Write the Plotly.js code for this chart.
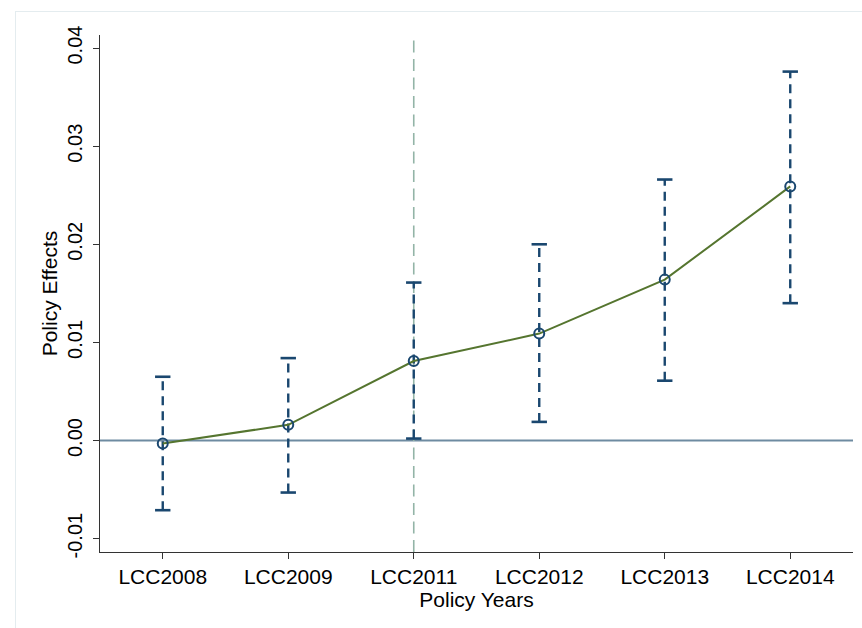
<!DOCTYPE html>
<html>
<head>
<meta charset="utf-8">
<script src="https://cdn.plot.ly/plotly-3.0.1.min.js"></script>
<style>
  html, body { margin: 0; padding: 0; background: #ffffff; }
  #wrap { position: relative; width: 862px; height: 628px; overflow: hidden; }
  #frame { position: absolute; left: 15px; top: 11px; width: 900px; height: 700px;
           border-left: 1px solid #e4ecef; border-top: 1px solid #e4ecef; pointer-events: none; }
  #chart { position: absolute; left: 0; top: 0; width: 862px; height: 628px; }
</style>
</head>
<body>
<div id="wrap">
  <div id="chart"></div>
  <div id="frame"></div>
</div>
<script>
// ---- data ----
const categories = ["LCC2008", "LCC2009", "LCC2011", "LCC2012", "LCC2013", "LCC2014"];
const estimates  = [-0.0003, 0.0016, 0.0081, 0.0109, 0.0164, 0.0259];
const ciLower    = [-0.0071, -0.0053, 0.0002, 0.0019, 0.0061, 0.0140];
const ciUpper    = [0.0065, 0.0084, 0.0161, 0.0200, 0.0266, 0.0376];
const yTickVals  = [-0.01, 0.00, 0.01, 0.02, 0.03, 0.04];
const yTickText  = ["-0.01", "0.00", "0.01", "0.02", "0.03", "0.04"];
const policyStart = "LCC2011";

const navy = "#1a476f";
const green = "#55752f";
const font = "Liberation Sans, Arial, Helvetica, sans-serif";

// CI segments built from the arrays
const ciX = [], ciY = [];
categories.forEach((c, i) => { ciX.push(c, c, null); ciY.push(ciLower[i], ciUpper[i], null); });

const traces = [
  { type: "scatter", mode: "lines", x: ciX, y: ciY, connectgaps: false,
    line: { color: navy, width: 2.4, dash: "9px,6px" }, hoverinfo: "skip", showlegend: false },
  { type: "scatter", mode: "markers", x: categories.concat(categories), y: ciLower.concat(ciUpper),
    marker: { symbol: "line-ew", size: 11, line: { color: navy, width: 2.6 } }, showlegend: false },
  { type: "scatter", mode: "lines", x: categories, y: estimates,
    line: { color: green, width: 2 }, showlegend: false },
  { type: "scatter", mode: "markers", x: categories, y: estimates,
    marker: { symbol: "circle-open", size: 10, color: navy, line: { color: navy, width: 2 } }, showlegend: false }
];

const layout = {
  width: 862, height: 628,
  margin: { l: 100, r: 9, t: 35, b: 76 },
  paper_bgcolor: "rgba(0,0,0,0)", plot_bgcolor: "#ffffff",
  font: { family: font, size: 20, color: "#000000" },
  showlegend: false,
  xaxis: {
    type: "category", categoryorder: "array", categoryarray: categories,
    range: [-0.5, categories.length - 0.5],
    showline: true, linecolor: "#333333", linewidth: 1.2, mirror: false,
    ticks: "outside", ticklen: 6, tickwidth: 1, tickcolor: "#333333",
    showgrid: false, zeroline: false,
    tickfont: { family: font, size: 21, color: "#000000" },
    title: { text: "Policy Years", font: { family: font, size: 21, color: "#000000" }, standoff: 4 },
    automargin: false
  },
  yaxis: {
    range: [-0.01136, 0.04133],
    tickvals: yTickVals, ticktext: yTickText, tickangle: -90,
    showline: true, linecolor: "#333333", linewidth: 1.2,
    ticks: "outside", ticklen: 6, tickwidth: 1, tickcolor: "#333333",
    ticklabelstandoff: 3,
    showgrid: false, zeroline: false,
    tickfont: { family: font, size: 20, color: "#000000" },
    title: { text: "Policy Effects", font: { family: font, size: 21, color: "#000000" }, standoff: 0 },
    automargin: false
  },
  shapes: [
    { type: "line", xref: "paper", yref: "y", x0: 0, x1: 1, y0: 0, y1: 0,
      line: { color: "#6e8ba1", width: 2 }, layer: "below" },
    { type: "line", xref: "x", yref: "paper", x0: policyStart, x1: policyStart, y0: 0, y1: 1,
      line: { color: "#93b4a7", width: 1.6, dash: "12px,6.5px" }, layer: "below" }
  ]
};

Plotly.newPlot("chart", traces, layout, { displayModeBar: false, staticPlot: true });
</script>
</body>
</html>
